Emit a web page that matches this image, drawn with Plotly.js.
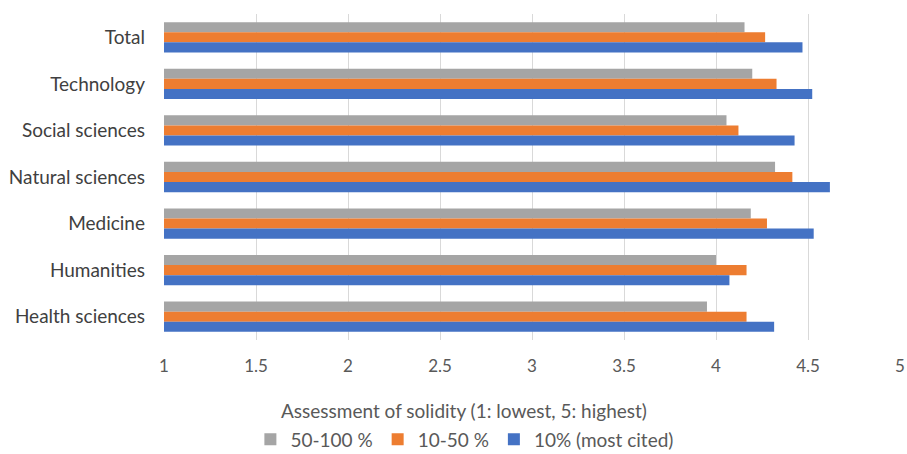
<!DOCTYPE html>
<html>
<head>
<meta charset="utf-8">
<script src="https://cdn.plot.ly/plotly-3.0.1.min.js"></script>
<style>html,body{margin:0;padding:0;background:#fff;}#chart{width:907px;height:454px;}</style>
</head>
<body>
<div id="chart"></div>
<script>
const categories = ["Total", "Technology", "Social sciences", "Natural sciences", "Medicine", "Humanities", "Health sciences"];
const seriesNames = ["50-100 %", "10-50 %", "10% (most cited)"];
const values50to100 = [4.155, 4.197, 4.057, 4.321, 4.189, 4.00, 3.951];
const values10to50 = [4.267, 4.329, 4.122, 4.415, 4.277, 4.166, 4.166];
const valuesTop10 = [4.47, 4.523, 4.427, 4.619, 4.531, 4.073, 4.316];
const tickValues = [1, 1.5, 2, 2.5, 3, 3.5, 4, 4.5, 5];
const tickLabels = ["1", "1.5", "2", "2.5", "3", "3.5", "4", "4.5", "5"];
const colors = ["#A5A5A5", "#ED7D31", "#4472C4"];

const allValues = [values50to100, values10to50, valuesTop10];
const traces = allValues.map((vals, i) => ({
  type: "bar",
  orientation: "h",
  y: categories,
  x: vals,
  name: seriesNames[i],
  marker: {color: colors[i]},
  hoverinfo: "x+y+name"
}));

const font = "Lato, 'Open Sans', sans-serif";
const layout = {
  width: 907, height: 454,
  margin: {l: 164, r: 7, t: 14, b: 114},
  paper_bgcolor: "#fff", plot_bgcolor: "#fff",
  barmode: "group", bargap: 0.35, bargroupgap: 0,
  font: {family: font, size: 18, color: "#595959"},
  xaxis: {
    range: [1, 5], tickvals: tickValues, ticktext: tickLabels,
    showgrid: true, gridcolor: "#D9D9D9", gridwidth: 1,
    zeroline: false, showline: false, ticks: "", ticklen: 0,
    ticklabelstandoff: 14,
    tickfont: {family: font, size: 17, color: "#595959"}
  },
  yaxis: {
    autorange: "reversed", type: "category",
    showgrid: false, zeroline: false, showline: false,
    ticks: "", ticklabelstandoff: 18,
    tickfont: {family: font, size: 19, color: "#404040"}
  },
  showlegend: true,
  legend: {
    orientation: "h", xref: "container", yref: "container",
    x: 0.512, xanchor: "center", y: 0.032, yanchor: "middle",
    font: {family: font, size: 19, color: "#595959"},
    itemwidth: 30, tracegroupgap: 0
  },
  annotations: [{
    text: "Assessment of solidity (1: lowest, 5: highest)",
    xref: "paper", yref: "paper",
    x: (464 - 164) / 736, y: -0.215,
    xanchor: "center", yanchor: "middle", showarrow: false,
    font: {family: font, size: 19, color: "#595959"}
  }]
};

Plotly.newPlot("chart", traces, layout, {displayModeBar: false, staticPlot: true});
</script>
</body>
</html>
